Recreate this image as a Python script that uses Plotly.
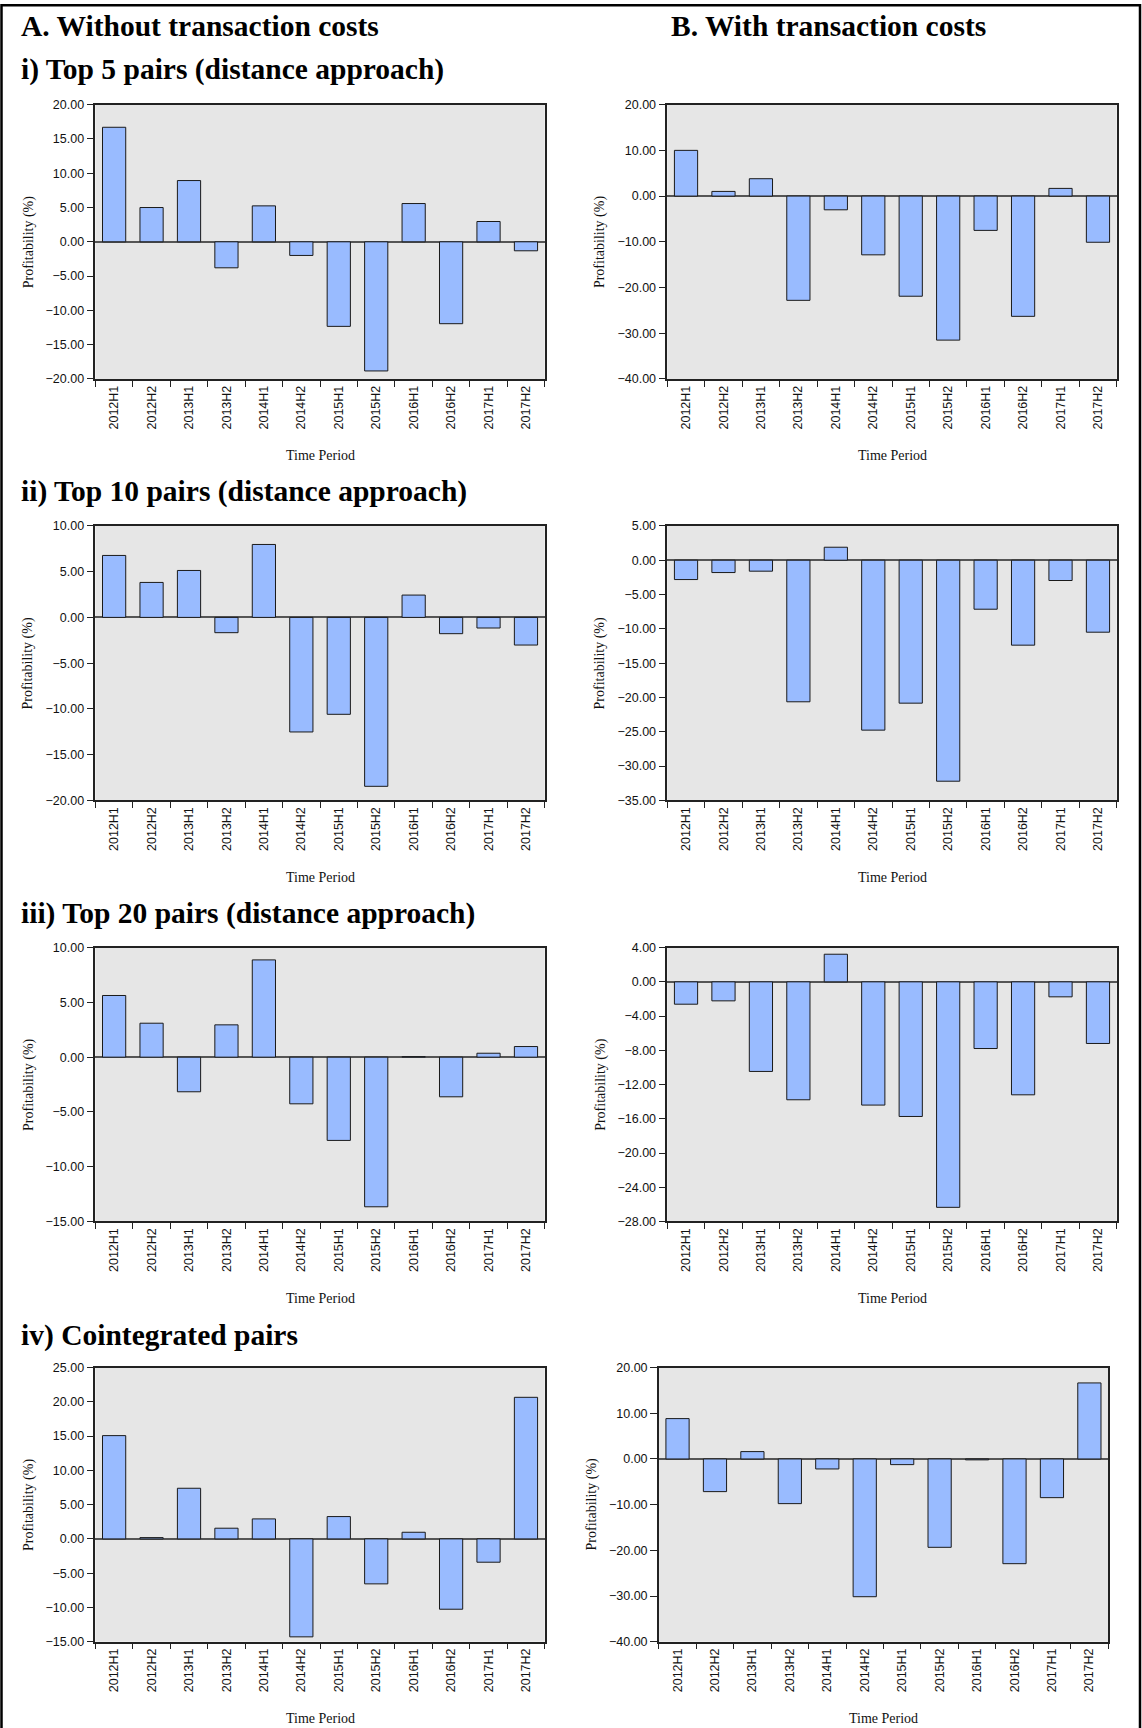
import plotly.graph_objects as go

# Half-year periods on the category axis
periods = ["2012H1", "2012H2", "2013H1", "2013H2", "2014H1", "2014H2",
           "2015H1", "2015H2", "2016H1", "2016H2", "2017H1", "2017H2"]

# Profitability (%) per period, without / with transaction costs
top5_no_tc = [16.70, 5.00, 8.93, -3.79, 5.24, -1.99, -12.33, -18.83, 5.58, -11.94, 2.96, -1.31]
top5_tc = [10.00, 1.02, 3.80, -22.80, -3.00, -12.85, -21.90, -31.50, -7.50, -26.30, 1.68, -10.10]

top10_no_tc = [6.77, 3.82, 5.13, -1.67, 7.97, -12.52, -10.59, -18.46, 2.44, -1.78, -1.16, -3.02]
top10_tc = [-2.82, -1.80, -1.60, -20.63, 1.89, -24.76, -20.83, -32.20, -7.14, -12.38, -2.96, -10.49]

top20_no_tc = [5.63, 3.10, -3.16, 2.95, 8.88, -4.26, -7.60, -13.66, 0.05, -3.62, 0.36, 0.97]
top20_tc = [-2.61, -2.22, -10.47, -13.78, 3.23, -14.40, -15.73, -26.35, -7.79, -13.20, -1.75, -7.20]

coint_no_tc = [15.07, 0.19, 7.39, 1.56, 2.92, -14.29, 3.26, -6.56, 0.97, -10.26, -3.40, 20.66]
coint_tc = [8.83, -7.15, 1.61, -9.78, -2.19, -30.15, -1.24, -19.34, -0.20, -22.92, -8.47, 16.64]

# Text
column_titles = ["A. Without transaction costs", "B. With transaction costs"]
row_titles = ["i) Top 5 pairs (distance approach)",
              "ii) Top 10 pairs (distance approach)",
              "iii) Top 20 pairs (distance approach)",
              "iv) Cointegrated pairs"]
y_title = "Profitability (%)"
x_title = "Time Period"

# Page geometry (pixels)
W, H = 1142, 1728
SERIF = "Liberation Serif, Times New Roman, serif"
SANS = "Liberation Sans, Arial, sans-serif"
BAR_FILL = "#99BBFF"
BAR_EDGE = "#1a1a1a"
PLOT_BG = "#E6E6E6"

# plot boxes: (left, right) and (top, bottom) in pixels
rows_px = [(104.5, 379.0), (526.0, 800.7), (948.0, 1222.0), (1368.2, 1642.5)]
col_a = (95.4, 544.7)
col_b = (667.3, 1116.7)
col_b_last = (658.8, 1108.1)

panels = [
    (top5_no_tc, [-20, 20], 5, col_a, rows_px[0]),
    (top5_tc, [-40, 20], 10, col_b, rows_px[0]),
    (top10_no_tc, [-20, 10], 5, col_a, rows_px[1]),
    (top10_tc, [-35, 5], 5, col_b, rows_px[1]),
    (top20_no_tc, [-15, 10], 5, col_a, rows_px[2]),
    (top20_tc, [-28, 4], 4, col_b, rows_px[2]),
    (coint_no_tc, [-15, 25], 5, col_a, rows_px[3]),
    (coint_tc, [-40, 20], 10, col_b_last, rows_px[3]),
]


def px_x(v):
    return v / W


def px_y(v):
    # vertical pixel offset from the top of the page -> paper fraction
    v = (v - 6.8) / 0.9925
    return 1 - v / H


fig = go.Figure()
layout = {}
annotations = []

for i, (vals, yr, dt, (xl, xr), (yt, yb)) in enumerate(panels, start=1):
    sfx = "" if i == 1 else str(i)
    fig.add_trace(go.Bar(
        x=periods, y=vals,
        xaxis="x" + sfx, yaxis="y" + sfx,
        width=0.62,
        marker=dict(color=BAR_FILL, line=dict(color=BAR_EDGE, width=1)),
        showlegend=False,
    ))
    layout["xaxis" + sfx] = dict(
        domain=[px_x(xl), px_x(xr)], anchor="y" + sfx,
        type="category", range=[-0.5, len(periods) - 0.5],
        showline=True, linecolor="#222", linewidth=1.5, mirror=True,
        ticks="outside", tickson="boundaries", ticklen=6, tickwidth=1.2, tickcolor="#222",
        tickangle=-90, tickfont=dict(family=SANS, size=12.5, color="#111"),
        showgrid=False, zeroline=False, fixedrange=True,
    )
    layout["yaxis" + sfx] = dict(
        domain=[px_y(yb), px_y(yt)], anchor="x" + sfx,
        range=yr, dtick=dt, tick0=0, tickformat=".2f",
        showline=True, linecolor="#222", linewidth=1.5, mirror=True,
        ticks="outside", ticklen=7, tickwidth=1.2, tickcolor="#222",
        tickfont=dict(family=SANS, size=12.5, color="#111"),
        showgrid=False, zeroline=True, zerolinecolor="#555", zerolinewidth=1.5,
        fixedrange=True,
    )
    # axis titles
    annotations.append(dict(
        text=y_title, textangle=-90, xref="paper", yref="paper",
        x=px_x(xl - 67), y=px_y((yt + yb) / 2), xanchor="center", yanchor="middle",
        showarrow=False, font=dict(family=SERIF, size=14, color="#111"),
    ))
    annotations.append(dict(
        text=x_title, xref="paper", yref="paper",
        x=px_x((xl + xr) / 2), y=px_y(yb + 77), xanchor="center", yanchor="middle",
        showarrow=False, font=dict(family=SERIF, size=14, color="#111"),
    ))

# column headings
for text, x0 in zip(column_titles, [19, 669]):
    annotations.append(dict(
        text="<b>" + text + "</b>", xref="paper", yref="paper",
        x=px_x(x0), y=px_y(25.5), xanchor="left", yanchor="middle",
        showarrow=False, font=dict(family=SERIF, size=29.5, color="#000"),
    ))

# row headings
for text, y0 in zip(row_titles, [69, 492, 914, 1336]):
    annotations.append(dict(
        text="<b>" + text + "</b>", xref="paper", yref="paper",
        x=px_x(19), y=px_y(y0), xanchor="left", yanchor="middle",
        showarrow=False, font=dict(family=SERIF, size=29.5, color="#000"),
    ))

# outer frame
shapes = [dict(type="rect", xref="paper", yref="paper",
               x0=px_x(1.5), x1=px_x(1140), y0=-0.02, y1=px_y(5),
               line=dict(color="#000", width=2.5), fillcolor="rgba(0,0,0,0)")]

fig.update_layout(
    width=W, height=H,
    margin=dict(l=0, r=0, t=0, b=0),
    paper_bgcolor="white", plot_bgcolor=PLOT_BG,
    bargap=0.38,
    annotations=annotations, shapes=shapes,
    **layout,
)

fig.write_html("out.html", config={"displayModeBar": False})
